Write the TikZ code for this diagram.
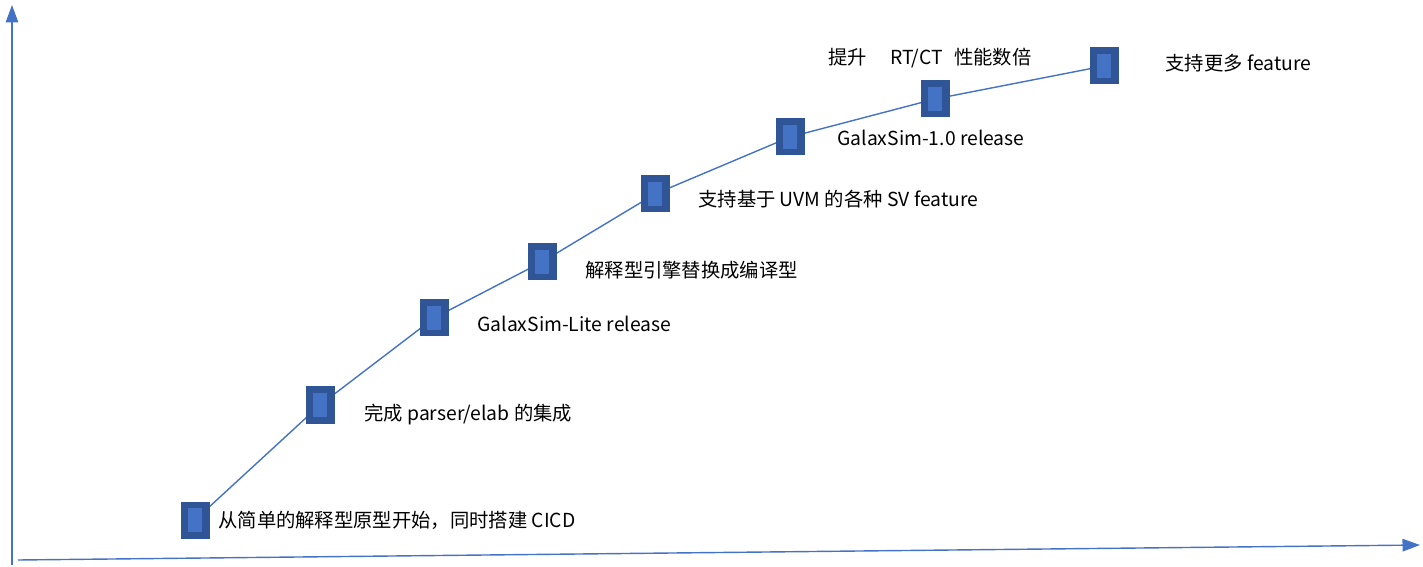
\documentclass[tikz,border=0pt]{standalone}
\usepackage{fontspec}
\setmainfont{Noto Sans CJK SC}
\usetikzlibrary{arrows.meta}
\definecolor{axisblue}{RGB}{68,114,196}
\definecolor{darkmark}{RGB}{47,85,151}

\begin{document}
\begin{tikzpicture}[x=0.02cm, y=-0.02cm,
    % Styles
    axis/.style={-{Triangle[length=3.5mm, width=2.5mm]}, draw=axisblue, thick},
    trend/.style={draw=axisblue, thick},
    mark/.style={},
    milestone/.style={rectangle, draw=darkmark, fill=darkmark, line width=0pt, minimum width=28*0.02cm, minimum height=36*0.02cm, inner sep=0pt,
        path picture={\fill[axisblue] ([xshift=-7*0.02cm, yshift=-12*0.02cm]path picture bounding box.center) rectangle ([xshift=7*0.02cm, yshift=12*0.02cm]path picture bounding box.center);}},
    caption/.style={anchor=west, font=\fontsize{11}{13}\selectfont, inner sep=0pt}
]
\useasboundingbox (0,0) rectangle (1423,567);

% Axes
\coordinate (origin) at (12,565);
\coordinate (ytop) at (12,5);
\coordinate (xstart) at (18,560);
\coordinate (xend) at (1420,545);
\draw[axis] (origin) -- (ytop);
\draw[axis] (xstart) -- (xend);

% Milestone positions
\coordinate (p1) at (195,520);
\coordinate (p2) at (320,405);
\coordinate (p3) at (434,318);
\coordinate (p4) at (542,262);
\coordinate (p5) at (655,194);
\coordinate (p6) at (790,137);
\coordinate (p7) at (935,99);
\coordinate (p8) at (1104,66);

\draw[trend] (p1) -- (p2) -- (p3) -- (p4) -- (p5) -- (p6) -- (p7) -- (p8);

\foreach \i in {1,...,8} {
    \node[milestone] (m\i) at (p\i) {};
}

% Labels
\node[caption] (t1) at (218,520) {从简单的解释型原型开始，同时搭建 CICD};
\node[caption] (t2) at (364,415) {完成 parser/elab 的集成};
\node[caption] (t3) at (477,324) {GalaxSim-Lite release};
\node[caption] (t4) at (585,270) {解释型引擎替换成编译型};
\node[caption] (t5) at (698,199) {支持基于 UVM 的各种 SV feature};
\node[caption] (t6) at (837,138) {GalaxSim-1.0 release};
\node[caption] (t7) at (828,58) {提升\hspace{1.2em}RT/CT\hspace{0.6em}性能数倍};
\node[caption] (t8) at (1165,63) {支持更多 feature};

\end{tikzpicture}
\end{document}
